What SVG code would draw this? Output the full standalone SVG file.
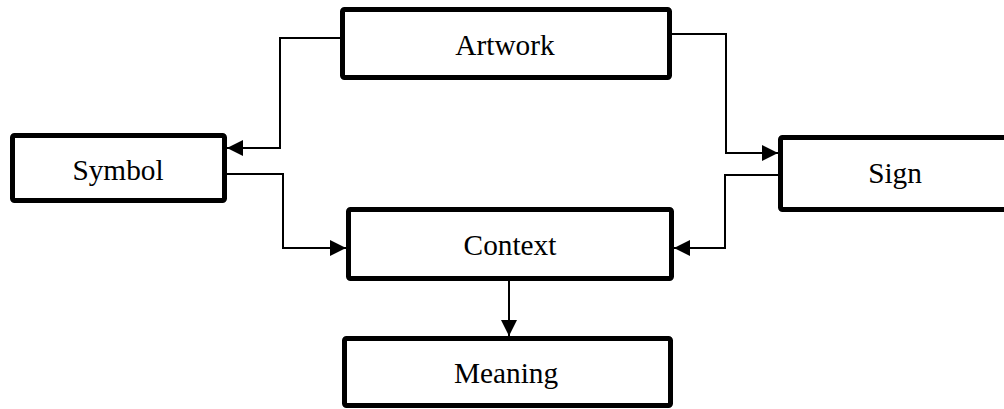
<svg xmlns="http://www.w3.org/2000/svg" width="1004" height="409" viewBox="0 0 1004 409">
<style>
.box{fill:#fff;stroke:#000;stroke-width:5}
.lbl{font-family:"Liberation Serif","Times New Roman",serif;font-size:29.3px;fill:#000;text-anchor:middle}
.conn{fill:none;stroke:#000;stroke-width:2}
</style>
<defs>
<marker id="ah" markerUnits="userSpaceOnUse" markerWidth="17" markerHeight="17" refX="16" refY="8" orient="auto">
<path d="M0,0 L16,8 L0,16 z" fill="#000"/>
</marker>
</defs>
<rect width="1004" height="409" fill="#fff"/>
<g id="connectors">
<path class="conn" d="M340,38 H280 V148 H227" marker-end="url(#ah)"/>
<path class="conn" d="M227,174 H283 V248 H346" marker-end="url(#ah)"/>
<path class="conn" d="M672,34 H726 V153 H778" marker-end="url(#ah)"/>
<path class="conn" d="M778,175 H725 V248 H674" marker-end="url(#ah)"/>
<path class="conn" d="M509,281 V336" marker-end="url(#ah)"/>
</g>
<g id="artwork">
<rect class="box" x="342.5" y="9.5" width="327" height="68" rx="2"/>
<text class="lbl" x="505" y="55">Artwork</text>
</g>
<g id="symbol">
<rect class="box" x="12.5" y="135.5" width="212" height="65" rx="2"/>
<text class="lbl" x="118" y="180">Symbol</text>
</g>
<g id="sign">
<rect class="box" x="780.5" y="137.5" width="230" height="72" rx="2"/>
<text class="lbl" x="895" y="183">Sign</text>
</g>
<g id="context">
<rect class="box" x="348.5" y="209.5" width="323" height="69" rx="2"/>
<text class="lbl" x="510" y="255">Context</text>
</g>
<g id="meaning">
<rect class="box" x="344.5" y="338.5" width="326" height="67" rx="2"/>
<text class="lbl" x="506" y="383">Meaning</text>
</g>
</svg>
